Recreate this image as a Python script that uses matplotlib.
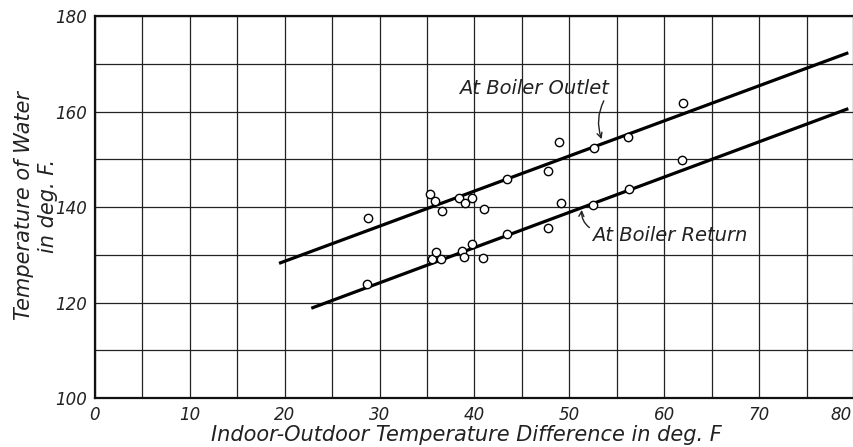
import numpy as np
import matplotlib.pyplot as plt
import matplotlib.transforms as mtransforms
from matplotlib.ticker import MultipleLocator

# Measured water temperatures vs. indoor-outdoor temperature difference
outlet_x = [28.8, 35.3, 35.8, 36.6, 38.4, 39.0, 39.7, 41.0, 43.4, 47.8, 48.9, 52.6, 56.2, 62.0]
outlet_y = [137.6, 142.8, 141.2, 139.1, 141.8, 140.8, 141.8, 139.5, 145.8, 147.6, 153.7, 152.4, 154.7, 161.8]
return_x = [28.7, 35.5, 35.9, 36.5, 38.7, 38.9, 39.7, 40.9, 43.4, 47.8, 49.1, 52.5, 56.3, 61.9]
return_y = [123.8, 129.1, 130.5, 129.1, 130.7, 129.5, 132.2, 129.3, 134.3, 135.7, 140.8, 140.5, 143.7, 149.9]

# Fitted straight lines (end points)
outlet_line_x = [19.4, 79.4]
outlet_line_y = [128.2, 172.3]
return_line_x = [22.8, 79.4]
return_line_y = [118.8, 160.6]

x_ticks = np.arange(0, 81, 10)
y_ticks = np.arange(100, 181, 20)

plt.rcParams['font.family'] = ['DejaVu Sans']
plt.rcParams['font.style'] = 'italic'

fig = plt.figure(figsize=(8.54, 4.47), dpi=100)
ax = fig.add_axes([0.1112, 0.1096, 0.8888, 0.8546])

ax.plot(outlet_line_x, outlet_line_y, color='black', lw=2.3, solid_capstyle='butt', zorder=3)
ax.plot(return_line_x, return_line_y, color='black', lw=2.3, solid_capstyle='butt', zorder=3)
ax.plot(outlet_x, outlet_y, 'o', ms=6, mfc='white', mec='black', mew=1.0, zorder=4)
ax.plot(return_x, return_y, 'o', ms=6, mfc='white', mec='black', mew=1.0, zorder=4)

ax.set_xlim(0, 80)
ax.set_ylim(100, 180)
ax.set_xticks(x_ticks)
ax.set_yticks(y_ticks)
ax.xaxis.set_minor_locator(MultipleLocator(5))
ax.yaxis.set_minor_locator(MultipleLocator(10))
ax.grid(which='both', color='#222222', lw=0.9)
ax.set_axisbelow(True)
ax.tick_params(which='both', length=0, labelsize=12, colors='#222222')
ax.tick_params(axis='x', pad=6)
ax.tick_params(axis='y', pad=6)
for sp in ax.spines.values():
    sp.set_linewidth(1.6)
    sp.set_color('#111111')

# keep the last x label inside the figure
last = ax.get_xticklabels()[-1]
last.set_horizontalalignment('right')
last.set_transform(last.get_transform() + mtransforms.ScaledTranslation(-2 / 100, 0, fig.dpi_scale_trans))

ax.set_xlabel('Indoor-Outdoor Temperature Difference in deg. F', fontsize=15,
              color='#222222', va='center')
ax.xaxis.set_label_coords(0.489, -0.097)
ax.set_ylabel('Temperature of Water\nin deg. F.', fontsize=15, color='#222222',
              linespacing=1.25, va='center', multialignment='center')
ax.yaxis.set_label_coords(-0.078, 0.503)

# Line labels with curved pointers
ax.annotate('At Boiler Outlet', xy=(53.4, 154.2), xytext=(54.2, 164.8),
            ha='right', va='center', fontsize=14, color='#222222',
            arrowprops=dict(arrowstyle='->', lw=1.0, color='#222222',
                            connectionstyle='arc3,rad=0.25', mutation_scale=9,
                            shrinkA=0, shrinkB=0, relpos=(0.99, 0.2)))
ax.annotate('At Boiler Return', xy=(51.3, 139.4), xytext=(52.4, 134.1),
            ha='left', va='center', fontsize=14, color='#222222',
            arrowprops=dict(arrowstyle='->', lw=1.0, color='#222222',
                            connectionstyle='arc3,rad=-0.3', mutation_scale=9,
                            shrinkA=0, shrinkB=0, relpos=(0.0, 0.8)))

fig.savefig('out.png', dpi=100)
